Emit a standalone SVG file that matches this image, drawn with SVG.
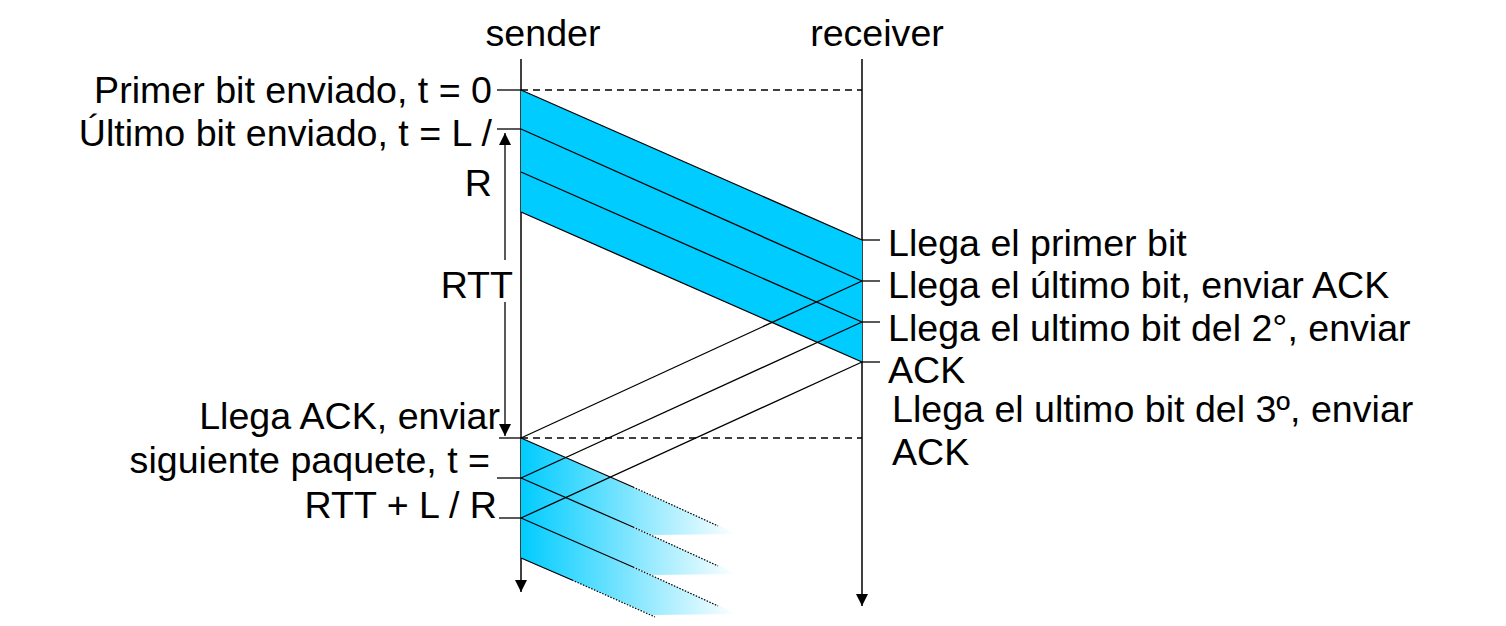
<svg xmlns="http://www.w3.org/2000/svg" width="1506" height="626" viewBox="0 0 1506 626">
<style>
  text { font-family: "Liberation Sans", Arial, sans-serif; font-size: 37.6px; fill: #000; }
  .end { text-anchor: end; }
  .ln { stroke: #000; stroke-width: 1.5; fill: none; }
  .thin { stroke: #000; stroke-width: 1.3; fill: none; }
  .dash { stroke: #000; stroke-width: 1.3; stroke-dasharray: 7 5; fill: none; }
  .dot { stroke: #000; stroke-width: 1.2; stroke-dasharray: 1.5 1.5; fill: none; }
  .pkt { fill: #00CCFF; stroke: none; }
  .fade { fill: url(#fadeGrad); stroke: none; }
</style>
<defs>
  <marker id="ah" viewBox="0 0 12 12" refX="12" refY="6" markerWidth="12" markerHeight="12" markerUnits="userSpaceOnUse" orient="auto">
    <path d="M0,0 L12,6 L0,12 Z" fill="#000"/>
  </marker>
  <linearGradient id="fadeGrad" gradientUnits="userSpaceOnUse" x1="521" y1="0" x2="737" y2="0">
    <stop offset="0" stop-color="#00CCFF"/>
    <stop offset="1" stop-color="#FFFFFF"/>
  </linearGradient>
</defs>
<rect width="1506" height="626" fill="#fff"/>

<g id="sender">
  <text x="543" y="46" text-anchor="middle">sender</text>
  <line class="ln" x1="521" y1="59" x2="521" y2="592" marker-end="url(#ah)"/>
</g>
<g id="receiver">
  <text x="877" y="46" text-anchor="middle">receiver</text>
  <line class="ln" x1="862" y1="59" x2="862" y2="606" marker-end="url(#ah)"/>
</g>

<g id="packets-first">
  <polygon class="pkt" points="521,90 862,240 862,362 521,212"/>
  <line class="thin" x1="521" y1="90" x2="862" y2="240"/>
  <line class="thin" x1="521" y1="129" x2="862" y2="281"/>
  <line class="thin" x1="521" y1="172" x2="862" y2="322"/>
  <line class="thin" x1="521" y1="212" x2="862" y2="362"/>
</g>

<g id="packets-next">
  <polygon class="fade" points="521,438 720,526 737,534 652,535 521,478"/>
  <polygon class="fade" points="521,478 720,566 737,574 652,575 521,518"/>
  <polygon class="fade" points="521,518 720,606 737,614 652,615 521,558"/>
  <line class="thin" x1="521" y1="438" x2="633" y2="487"/>
  <line class="dot" x1="633" y1="487" x2="718" y2="526"/>
  <line class="thin" x1="521" y1="478" x2="633" y2="527"/>
  <line class="dot" x1="633" y1="527" x2="718" y2="566"/>
  <line class="thin" x1="521" y1="518" x2="633" y2="567"/>
  <line class="dot" x1="633" y1="567" x2="718" y2="606"/>
  <line class="thin" x1="521" y1="558" x2="572" y2="580"/>
  <line class="dot" x1="572" y1="580" x2="655" y2="617"/>
</g>

<g id="connectors">
  <line class="dash" x1="521" y1="90" x2="862" y2="90"/>
  <line class="dash" x1="521" y1="438" x2="862" y2="438"/>
  <line class="thin" x1="862" y1="281" x2="521" y2="438"/>
  <line class="thin" x1="862" y1="322" x2="521" y2="478"/>
  <line class="thin" x1="862" y1="362" x2="521" y2="518"/>
  <line class="thin" x1="505" y1="260" x2="505" y2="133" marker-end="url(#ah)"/>
  <line class="thin" x1="505" y1="302" x2="505" y2="436" marker-end="url(#ah)"/>
  <line class="thin" x1="497" y1="90" x2="521" y2="90"/>
  <line class="thin" x1="497" y1="129" x2="521" y2="129"/>
  <line class="thin" x1="499" y1="438" x2="521" y2="438"/>
  <line class="thin" x1="497" y1="478" x2="521" y2="478"/>
  <line class="thin" x1="499" y1="518" x2="521" y2="518"/>
  <line class="thin" x1="862" y1="240" x2="880" y2="240"/>
  <line class="thin" x1="862" y1="281" x2="880" y2="281"/>
  <line class="thin" x1="862" y1="322" x2="880" y2="322"/>
  <line class="thin" x1="862" y1="362" x2="880" y2="362"/>
</g>

<g id="sender-labels">
  <text class="end" x="492" y="103">Primer bit enviado, t = 0</text>
  <text class="end" x="492" y="146">Último bit enviado, t = L /</text>
  <text class="end" x="492" y="196">R</text>
  <text class="end" x="513" y="298">RTT</text>
  <text class="end" x="500" y="429">Llega ACK, enviar</text>
  <text class="end" x="490" y="473">siguiente paquete, t =</text>
  <text class="end" x="497" y="518">RTT + L / R</text>
</g>

<g id="receiver-labels">
  <text x="888" y="256">Llega el primer bit</text>
  <text x="888" y="298">Llega el último bit, enviar ACK</text>
  <text x="888" y="341">Llega el ultimo bit del 2°, enviar</text>
  <text x="888" y="383">ACK</text>
  <text x="892" y="422">Llega el ultimo bit del 3º, enviar</text>
  <text x="892" y="465">ACK</text>
</g>
</svg>
